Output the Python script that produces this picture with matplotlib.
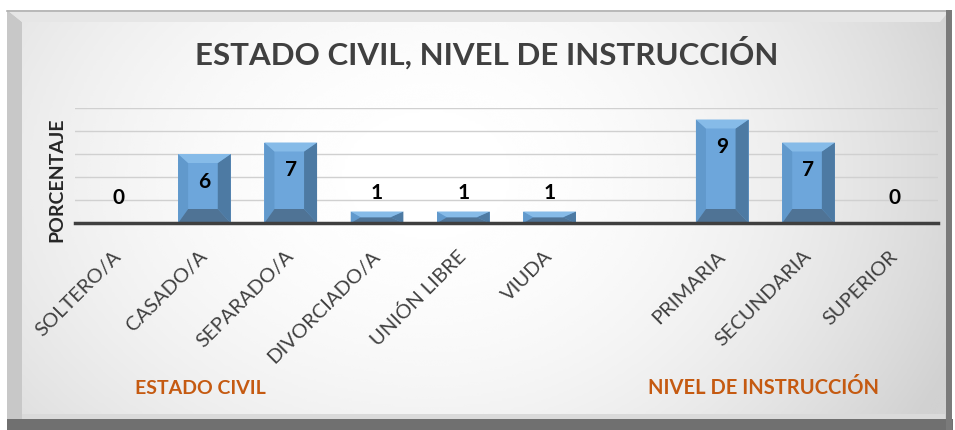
import numpy as np
import matplotlib
matplotlib.use('Agg')
import matplotlib.pyplot as plt
from matplotlib.patches import Polygon, Rectangle

plt.rcParams['font.family'] = ['Lato', 'DejaVu Sans']

# datos
estado_cats = ['SOLTERO/A', 'CASADO/A', 'SEPARADO/A', 'DIVORCIADO/A', 'UNIÓN LIBRE', 'VIUDA']
estado_vals = [0, 6, 7, 1, 1, 1]
nivel_cats = ['PRIMARIA', 'SECUNDARIA', 'SUPERIOR']
nivel_vals = [9, 7, 0]

titulo = 'ESTADO CIVIL, NIVEL DE INSTRUCCIÓN'
grupos = ['ESTADO CIVIL', 'NIVEL DE INSTRUCCIÓN']

W, H = 955, 430
fig = plt.figure(figsize=(W / 100, H / 100), dpi=100)
fig.patch.set_facecolor('white')

# fondo tipo tarjeta con bisel
bg = fig.add_axes([0, 0, 1, 1], zorder=-5)
bg.set_xlim(0, W)
bg.set_ylim(H, 0)
bg.axis('off')

xx, yy = np.meshgrid(np.linspace(0, 1, 300), np.linspace(0, 1, 150))
dx = np.where(xx > 0.45, (xx - 0.45) / 0.55, (0.45 - xx) / 0.45)
kx = np.where(xx > 0.45, 0.15, 0.08)
grad = 1.0 - kx * dx ** 2 - 0.05 * ((yy - 0.4) / 0.6) ** 2
grad = np.clip(grad, 0.82, 1.0)
bg.imshow(grad, cmap='gray', vmin=0, vmax=1, extent=[7, 950, 422, 10],
          aspect='auto', zorder=0, interpolation='bicubic')
# bordes
bg.add_patch(Polygon([(7, 10), (22, 22), (22, 420), (7, 428)], closed=True,
                     fc='#c8c8c8', ec='none', zorder=1))
bg.add_patch(Polygon([(7, 10), (950, 10), (940, 22), (22, 22)], closed=True,
                     fc='#e6e6e6', ec='none', zorder=1))
bg.add_line(plt.Line2D([7, 950], [10.5, 10.5], color='#b0b0b0', lw=1.2, zorder=2))
bg.add_patch(Rectangle((7, 419), 946, 11, fc='#707070', ec='none', zorder=2))
bg.add_patch(Rectangle((946, 10), 6, 420, fc='#7a7a7a', ec='none', zorder=2))
bg.add_patch(Rectangle((22, 414), 923, 5, fc='#dadada', ec='none', zorder=1))

# ejes del gráfico
ax_l, ax_r = 75, 938
ax_b, ax_t = 223, 108
ax = fig.add_axes([ax_l / W, 1 - ax_b / H, (ax_r - ax_l) / W, (ax_b - ax_t) / H])
ax.patch.set_alpha(0)

cats = estado_cats + [''] + nivel_cats
vals = estado_vals + [None] + nivel_vals
x = np.arange(len(cats))
ax.set_xlim(-0.5, len(cats) - 0.5)
ax.set_ylim(0, 10)

bw = 0.61
xs = [xi for xi, v in zip(x, vals) if v is not None]
vs = [v for v in vals if v is not None]
ax.bar(xs, vs, width=bw, color='#6DA6DB', edgecolor='none', zorder=3)

# bisel de las barras
px_x = (len(cats)) / (ax_r - ax_l)
px_y = 10 / (ax_b - ax_t)
for xi, v in zip(xs, vs):
    if v <= 0:
        continue
    x0, x1 = xi - bw / 2, xi + bw / 2
    bl, br = 10 * px_x, 13 * px_x
    bt = min(9 * px_y, v / 2)
    bb = min(14 * px_y, v / 2)
    xi0, xi1 = x0 + bl, x1 - br
    yi0, yi1 = bb, v - bt
    caras = [
        ([(x0, 0), (x0, v), (xi0, yi1), (xi0, yi0)], '#6199cc'),
        ([(x1, 0), (x1, v), (xi1, yi1), (xi1, yi0)], '#4d7aa3'),
        ([(x0, 0), (x1, 0), (xi1, yi0), (xi0, yi0)], '#4f7395'),
        ([(x0, v), (x1, v), (xi1, yi1), (xi0, yi1)], '#86bbe8'),
    ]
    for pts, c in caras:
        ax.add_patch(Polygon(pts, closed=True, fc=c, ec='none', zorder=4))

# etiquetas de datos
for xi, v in zip(xs, vs):
    if v >= 3:
        ax.annotate(str(v), (xi, v), xytext=(0, -20), textcoords='offset points',
                    ha='center', va='center', fontsize=15, fontweight='bold',
                    color='black', zorder=6)
    else:
        ax.annotate(str(v), (xi, v), xytext=(0, 13 if v > 0 else 18),
                    textcoords='offset points', ha='center', va='center',
                    fontsize=15, fontweight='bold', color='black', zorder=6)

ax.set_yticks([2, 4, 6, 8, 10])
ax.yaxis.grid(True, color='#d0d0d0', lw=1.0, zorder=0)
ax.tick_params(axis='y', left=False, labelleft=False)
for s in ['top', 'right', 'left']:
    ax.spines[s].set_visible(False)
ax.spines['bottom'].set_color('#3f3f3f')
ax.spines['bottom'].set_linewidth(2.5)
ax.spines['bottom'].set_zorder(7)

ax.set_xticks(x)
ax.set_xticklabels(cats, rotation=45, ha='right', va='center',
                   rotation_mode='anchor', fontsize=14.5, color='#404040')
ax.tick_params(axis='x', length=0, pad=22)

fig.text(487 / W, 1 - 53 / H, titulo, ha='center', va='center',
         fontsize=22.5, fontweight='bold', color='#404040')
fig.text(57 / W, 1 - 180 / H, 'PORCENTAJE', ha='center', va='center',
         rotation=90, fontsize=14, fontweight='bold', color='#262626')
fig.text(200 / W, 1 - 388 / H, grupos[0], ha='center', va='center',
         fontsize=14, fontweight='bold', color='#C55A11')
fig.text(763 / W, 1 - 388 / H, grupos[1], ha='center', va='center',
         fontsize=14.5, fontweight='bold', color='#C55A11')

fig.savefig('out.png', dpi=100)
